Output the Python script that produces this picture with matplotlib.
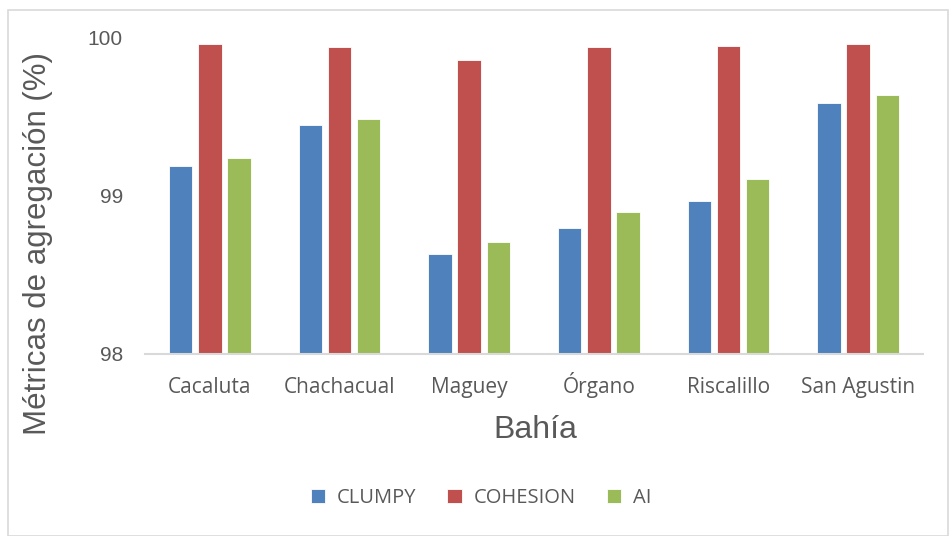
import numpy as np
import matplotlib
matplotlib.use("Agg")
import matplotlib.pyplot as plt
from matplotlib.patches import Rectangle

bahias = ["Cacaluta", "Chachacual", "Maguey", "Órgano", "Riscalillo", "San Agustin"]
clumpy = [99.19, 99.45, 98.63, 98.80, 98.97, 99.59]
cohesion = [99.96, 99.94, 99.86, 99.94, 99.95, 99.96]
ai = [99.24, 99.49, 98.71, 98.90, 99.11, 99.64]

series = [("CLUMPY", clumpy, "#4f81bd"), ("COHESION", cohesion, "#c0504d"), ("AI", ai, "#9bbb59")]

fig = plt.figure(figsize=(9.49, 5.36), dpi=100)
fig.patches.append(Rectangle((8 / 949, 0), 1 - 9 / 949, 1 - 10 / 536, transform=fig.transFigure,
                             fill=False, edgecolor="#d9d9d9", linewidth=1.2))
ax = fig.add_axes([0.1528, 0.3396, 0.8198, 0.5896])

x = np.arange(len(bahias))
w = 0.18
step = 0.225
for i, (name, vals, col) in enumerate(series):
    ax.bar(x + (i - 1) * step, np.array(vals) - 98, w, bottom=98, color=col,
           edgecolor="white", linewidth=0.6, label=name)

ax.set_xlim(-0.5, len(bahias) - 0.5)
ax.set_ylim(98, 100)
ax.set_yticks([98, 99, 100])
ax.set_yticklabels(["98", "99", "100"], fontsize=15, color="#595959", family="Liberation Sans")
ax.set_xticks(x)
ax.set_xticklabels(bahias, fontsize=15, color="#595959", family="Open Sans")
for lbl in ax.get_xticklabels():
    lbl.set_va("baseline")
ax.tick_params(axis="both", length=0)
ax.tick_params(axis="x", pad=28)
ax.tick_params(axis="y", pad=16)
for s in ["top", "right", "left"]:
    ax.spines[s].set_visible(False)
ax.spines["bottom"].set_color("#d9d9d9")
ax.spines["bottom"].set_linewidth(1.5)

fig.text(535 / 949, 1 - 430 / 536, "Bahía", fontsize=23, color="#595959",
         family="Liberation Sans", ha="center", va="center")
fig.text(38 / 949, 1 - 243 / 536, "Métricas de agregación (%)", rotation=90, fontsize=22.5,
         color="#595959", family="Liberation Sans", ha="center", va="center")

leg = fig.legend(loc="center", bbox_to_anchor=(481 / 949, 1 - 498 / 536), ncol=3, frameon=False,
                 prop={"family": "Open Sans", "size": 14.5}, handlelength=0.7, handleheight=0.7,
                 columnspacing=1.55, handletextpad=0.6)
for t in leg.get_texts():
    t.set_color("#595959")

fig.savefig("out.png", dpi=100)
